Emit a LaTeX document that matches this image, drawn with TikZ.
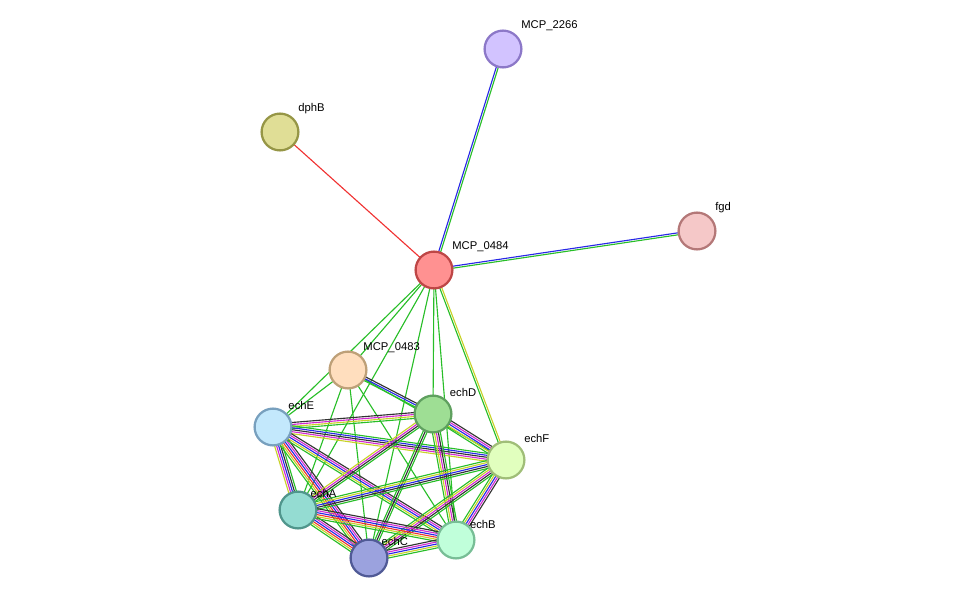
\documentclass[tikz,border=0pt]{standalone}
\usepackage{fontspec}
\setmainfont{Liberation Sans}
\usetikzlibrary{calc,positioning}
\definecolor{sgreen}{RGB}{40,190,40}
\definecolor{syellow}{RGB}{200,210,40}
\definecolor{sblue}{RGB}{40,40,230}
\definecolor{smag}{RGB}{210,40,210}
\definecolor{sblack}{RGB}{50,50,50}
\definecolor{sred}{RGB}{240,50,50}
\tikzset{
  prot/.style={circle, draw, line width=1.6pt, minimum size=0.92cm, inner sep=0pt},
  lbl/.style={font=\fontsize{8}{9}\selectfont, inner sep=1pt},
  lnk/.style={line width=0.8pt}
}
% parallel coloured links between two nodes
\newcommand{\multilink}[3]{%
  \foreach \c [count=\i] in {#3} {\xdef\nlinks{\i}}%
  \foreach \c [count=\i] in {#3} {%
    \pgfmathsetmacro{\off}{(\i-(\nlinks+1)/2)*1.4}%
    \draw[lnk, \c] ($(#1)!\off pt!90:(#2)$) -- ($(#2)!\off pt!-90:(#1)$);
  }%
}
\begin{document}
\begin{tikzpicture}[x=0.025cm, y=-0.025cm]
  \useasboundingbox (0,0) rectangle (975,604);
  % node centres
  \coordinate (p2266) at (503,49);
  \coordinate (pdphB) at (280,132);
  \coordinate (pfgd) at (697,231);
  \coordinate (p484) at (434,270);
  \coordinate (p483) at (348,370);
  \coordinate (pE) at (273,427);
  \coordinate (pD) at (433,414);
  \coordinate (pF) at (506,460);
  \coordinate (pA) at (298,510);
  \coordinate (pC) at (369,558);
  \coordinate (pB) at (456,540);

  % links of the hub
  \multilink{p484}{pdphB}{sred}
  \multilink{p484}{p2266}{sgreen,sblue}
  \multilink{p484}{pfgd}{sgreen,sblue}
  \multilink{p484}{pF}{sgreen,syellow}
  \foreach \t in {p483,pE,pD,pA,pC,pB} {\multilink{p484}{\t}{sgreen}}
  \foreach \t in {pE,pF,pA,pC,pB} {\multilink{p483}{\t}{sgreen}}
  \multilink{p483}{pD}{sgreen,sblue,sblack}

  % links inside the complex
  \multilink{pE}{pD}{sgreen,syellow,smag,sblack}
  \multilink{pE}{pF}{syellow,smag,sblack,sblue,sgreen}
  \multilink{pE}{pA}{syellow,smag,sblue,sblack,sgreen}
  \multilink{pE}{pC}{sgreen,syellow,sred,sblue,smag,sblack}
  \multilink{pE}{pB}{sgreen,syellow,sblue,smag,sblack}
  \multilink{pD}{pF}{sgreen,syellow,sblue,smag,sblack}
  \multilink{pD}{pA}{syellow,smag,sblack,sgreen}
  \multilink{pD}{pC}{sgreen,sblack,sgreen}
  \multilink{pD}{pB}{sgreen,syellow,smag,sblack,sgreen}
  \multilink{pF}{pA}{sgreen,syellow,sblue,sblack,sgreen}
  \multilink{pF}{pC}{sgreen,syellow,smag,sblack,sgreen}
  \multilink{pF}{pB}{sgreen,syellow,sblue,smag,sblack}
  \multilink{pA}{pC}{sgreen,syellow,sred,sblue,smag,sblack}
  \multilink{pA}{pB}{sgreen,syellow,sred,sblue,smag,sblack}
  \multilink{pC}{pB}{sgreen,syellow,sblue,smag,sblack}

  % proteins
  \node[prot, draw={rgb,255:red,140;green,120;blue,200}, fill={rgb,255:red,210;green,195;blue,255}] (n2266) at (p2266) {};
  \node[prot, draw={rgb,255:red,150;green,150;blue,70}, fill={rgb,255:red,224;green,222;blue,150}] (ndphB) at (pdphB) {};
  \node[prot, draw={rgb,255:red,180;green,120;blue,120}, fill={rgb,255:red,245;green,200;blue,200}] (nfgd) at (pfgd) {};
  \node[prot, draw={rgb,255:red,190;green,70;blue,70}, fill={rgb,255:red,255;green,145;blue,145}] (n484) at (p484) {};
  \node[prot, draw={rgb,255:red,190;green,160;blue,120}, fill={rgb,255:red,255;green,222;blue,190}] (n483) at (p483) {};
  \node[prot, draw={rgb,255:red,120;green,160;blue,190}, fill={rgb,255:red,195;green,232;blue,252}] (nE) at (pE) {};
  \node[prot, draw={rgb,255:red,95;green,160;blue,95}, fill={rgb,255:red,158;green,222;blue,148}] (nD) at (pD) {};
  \node[prot, draw={rgb,255:red,160;green,190;blue,120}, fill={rgb,255:red,225;green,255;blue,190}] (nF) at (pF) {};
  \node[prot, draw={rgb,255:red,80;green,150;blue,140}, fill={rgb,255:red,148;green,220;blue,210}] (nA) at (pA) {};
  \node[prot, draw={rgb,255:red,80;green,90;blue,150}, fill={rgb,255:red,155;green,162;blue,222}] (nC) at (pC) {};
  \node[prot, draw={rgb,255:red,120;green,190;blue,150}, fill={rgb,255:red,192;green,255;blue,218}] (nB) at (pB) {};

  % labels
  \node[lbl, anchor=south west] at ([xshift=2pt,yshift=2pt]n2266.north east) {MCP\_2266};
  \node[lbl, anchor=south west] at ([xshift=2pt,yshift=2pt]ndphB.north east) {dphB};
  \node[lbl, anchor=south west] at ([xshift=2pt,yshift=2pt]nfgd.north east) {fgd};
  \node[lbl, anchor=south west] at ([xshift=2pt,yshift=2pt]n484.north east) {MCP\_0484};
  \node[lbl, anchor=south west] at ([xshift=0pt,yshift=1pt]n483.north east) {MCP\_0483};
  \node[lbl, anchor=south west] at ([xshift=0pt,yshift=1pt]nE.north east) {echE};
  \node[lbl, anchor=south west] at ([xshift=1pt,yshift=1pt]nD.north east) {echD};
  \node[lbl, anchor=south west] at ([xshift=2pt,yshift=1pt]nF.north east) {echF};
  \node[lbl, anchor=south west] at ([xshift=-2pt,yshift=-2pt]nA.north east) {echA};
  \node[lbl, anchor=south west] at ([xshift=-2pt,yshift=-2pt]nC.north east) {echC};
  \node[lbl, anchor=south west] at ([xshift=-1pt,yshift=-3pt]nB.north east) {echB};
\end{tikzpicture}
\end{document}
